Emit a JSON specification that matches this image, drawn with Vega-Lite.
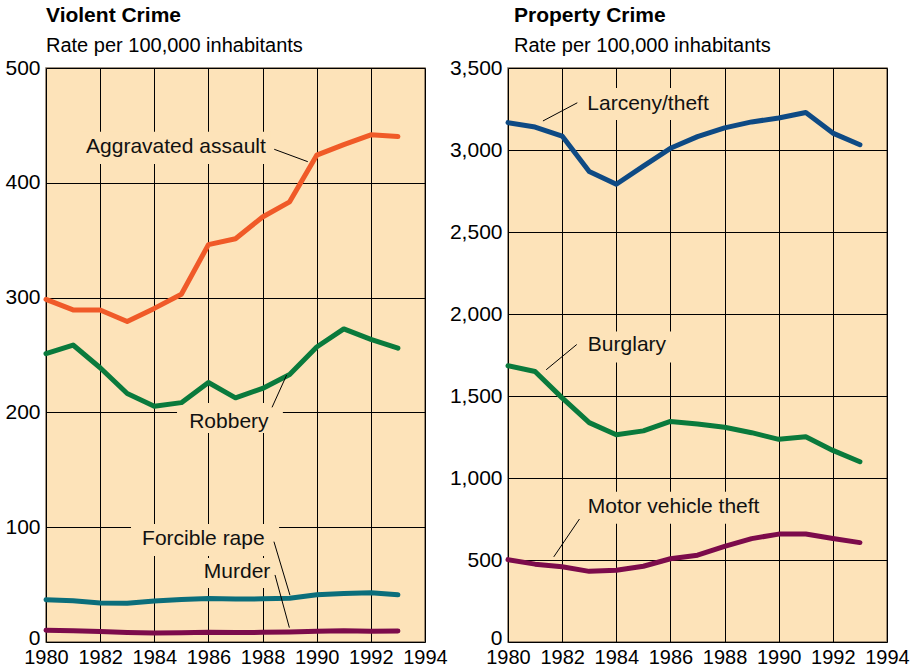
{
  "$schema": "https://vega.github.io/schema/vega-lite/v6.json",
  "background": "#ffffff",
  "padding": {"left": 4, "top": 4, "right": 10, "bottom": 4},
  "bounds": "flush",
  "spacing": 83,
  "datasets": {
    "violent": [
      {"year":1980,"crime":"Aggravated assault","rate":298.5},{"year":1981,"crime":"Aggravated assault","rate":289.3},{"year":1982,"crime":"Aggravated assault","rate":289.2},{"year":1983,"crime":"Aggravated assault","rate":279.2},{"year":1984,"crime":"Aggravated assault","rate":290.6},{"year":1985,"crime":"Aggravated assault","rate":302.9},{"year":1986,"crime":"Aggravated assault","rate":346.1},{"year":1987,"crime":"Aggravated assault","rate":351.3},{"year":1988,"crime":"Aggravated assault","rate":370.2},{"year":1989,"crime":"Aggravated assault","rate":383.4},{"year":1990,"crime":"Aggravated assault","rate":424.1},{"year":1991,"crime":"Aggravated assault","rate":433.3},{"year":1992,"crime":"Aggravated assault","rate":441.8},{"year":1993,"crime":"Aggravated assault","rate":440.3},
      {"year":1980,"crime":"Robbery","rate":251.1},{"year":1981,"crime":"Robbery","rate":258.7},{"year":1982,"crime":"Robbery","rate":238.9},{"year":1983,"crime":"Robbery","rate":216.5},{"year":1984,"crime":"Robbery","rate":205.4},{"year":1985,"crime":"Robbery","rate":208.5},{"year":1986,"crime":"Robbery","rate":226.0},{"year":1987,"crime":"Robbery","rate":212.7},{"year":1988,"crime":"Robbery","rate":220.9},{"year":1989,"crime":"Robbery","rate":233.0},{"year":1990,"crime":"Robbery","rate":257.0},{"year":1991,"crime":"Robbery","rate":272.7},{"year":1992,"crime":"Robbery","rate":263.6},{"year":1993,"crime":"Robbery","rate":255.9},
      {"year":1980,"crime":"Forcible rape","rate":36.8},{"year":1981,"crime":"Forcible rape","rate":36.0},{"year":1982,"crime":"Forcible rape","rate":34.0},{"year":1983,"crime":"Forcible rape","rate":33.7},{"year":1984,"crime":"Forcible rape","rate":35.7},{"year":1985,"crime":"Forcible rape","rate":37.1},{"year":1986,"crime":"Forcible rape","rate":37.9},{"year":1987,"crime":"Forcible rape","rate":37.4},{"year":1988,"crime":"Forcible rape","rate":37.6},{"year":1989,"crime":"Forcible rape","rate":38.1},{"year":1990,"crime":"Forcible rape","rate":41.2},{"year":1991,"crime":"Forcible rape","rate":42.3},{"year":1992,"crime":"Forcible rape","rate":42.8},{"year":1993,"crime":"Forcible rape","rate":41.1},
      {"year":1980,"crime":"Murder","rate":10.2},{"year":1981,"crime":"Murder","rate":9.8},{"year":1982,"crime":"Murder","rate":9.1},{"year":1983,"crime":"Murder","rate":8.3},{"year":1984,"crime":"Murder","rate":7.9},{"year":1985,"crime":"Murder","rate":8.0},{"year":1986,"crime":"Murder","rate":8.6},{"year":1987,"crime":"Murder","rate":8.3},{"year":1988,"crime":"Murder","rate":8.4},{"year":1989,"crime":"Murder","rate":8.7},{"year":1990,"crime":"Murder","rate":9.4},{"year":1991,"crime":"Murder","rate":9.8},{"year":1992,"crime":"Murder","rate":9.3},{"year":1993,"crime":"Murder","rate":9.5}
    ],
    "property": [
      {"year":1980,"crime":"Larceny/theft","rate":3167.0},{"year":1981,"crime":"Larceny/theft","rate":3139.7},{"year":1982,"crime":"Larceny/theft","rate":3084.9},{"year":1983,"crime":"Larceny/theft","rate":2868.9},{"year":1984,"crime":"Larceny/theft","rate":2791.3},{"year":1985,"crime":"Larceny/theft","rate":2901.2},{"year":1986,"crime":"Larceny/theft","rate":3010.3},{"year":1987,"crime":"Larceny/theft","rate":3081.3},{"year":1988,"crime":"Larceny/theft","rate":3134.9},{"year":1989,"crime":"Larceny/theft","rate":3171.3},{"year":1990,"crime":"Larceny/theft","rate":3194.8},{"year":1991,"crime":"Larceny/theft","rate":3228.8},{"year":1992,"crime":"Larceny/theft","rate":3103.0},{"year":1993,"crime":"Larceny/theft","rate":3032.4},
      {"year":1980,"crime":"Burglary","rate":1684.1},{"year":1981,"crime":"Burglary","rate":1649.5},{"year":1982,"crime":"Burglary","rate":1488.8},{"year":1983,"crime":"Burglary","rate":1337.7},{"year":1984,"crime":"Burglary","rate":1263.7},{"year":1985,"crime":"Burglary","rate":1287.3},{"year":1986,"crime":"Burglary","rate":1344.6},{"year":1987,"crime":"Burglary","rate":1329.6},{"year":1988,"crime":"Burglary","rate":1309.2},{"year":1989,"crime":"Burglary","rate":1276.3},{"year":1990,"crime":"Burglary","rate":1235.9},{"year":1991,"crime":"Burglary","rate":1252.1},{"year":1992,"crime":"Burglary","rate":1168.2},{"year":1993,"crime":"Burglary","rate":1099.2},
      {"year":1980,"crime":"Motor vehicle theft","rate":502.2},{"year":1981,"crime":"Motor vehicle theft","rate":474.7},{"year":1982,"crime":"Motor vehicle theft","rate":458.8},{"year":1983,"crime":"Motor vehicle theft","rate":430.8},{"year":1984,"crime":"Motor vehicle theft","rate":437.1},{"year":1985,"crime":"Motor vehicle theft","rate":462.0},{"year":1986,"crime":"Motor vehicle theft","rate":507.8},{"year":1987,"crime":"Motor vehicle theft","rate":529.4},{"year":1988,"crime":"Motor vehicle theft","rate":582.9},{"year":1989,"crime":"Motor vehicle theft","rate":630.4},{"year":1990,"crime":"Motor vehicle theft","rate":657.8},{"year":1991,"crime":"Motor vehicle theft","rate":659.0},{"year":1992,"crime":"Motor vehicle theft","rate":631.6},{"year":1993,"crime":"Motor vehicle theft","rate":606.1}
    ],
    "violentLabels": [
      {"label":"Aggravated assault","year":1981.48,"rate":431.2,"lyear":1988.43,"lrate":429.2,"lyear2":1989.67,"lrate2":418.4,"myear":1981.29,"myear2":1988.31,"mrate":444.5,"mrate2":416.4},
      {"label":"Robbery","year":1985.29,"rate":191.9,"lyear":1988.35,"lrate":204.4,"lyear2":1988.89,"lrate2":232.6,"myear":1984.84,"myear2":1988.75,"mrate":208.2,"mrate2":182.1},
      {"label":"Forcible rape","year":1983.55,"rate":89.7,"lyear":1988.42,"lrate":87.4,"lyear2":1989.01,"lrate2":40.9,"myear":1983.14,"myear2":1988.61,"mrate":102.8,"mrate2":74.9},
      {"label":"Murder","year":1985.83,"rate":61.2,"lyear":1988.46,"lrate":58.4,"lyear2":1988.99,"lrate2":12.5,"myear":1985.58,"myear2":1988.61,"mrate":73.2,"mrate2":47.0}
    ],
    "propertyLabels": [
      {"label":"Larceny/theft","year":1982.93,"rate":3280,"lyear":1982.56,"lrate":3288,"lyear2":1981.29,"lrate2":3177,"myear":1982.70,"myear2":1987.70,"mrate":3378,"mrate2":3183},
      {"label":"Burglary","year":1982.95,"rate":1808,"lyear":1982.54,"lrate":1814,"lyear2":1981.41,"lrate2":1660,"myear":1982.70,"myear2":1986.22,"mrate":1894,"mrate2":1704},
      {"label":"Motor vehicle theft","year":1982.95,"rate":826,"lyear":1982.64,"lrate":750,"lyear2":1981.69,"lrate2":519,"myear":1982.70,"myear2":1989.74,"mrate":916,"mrate2":721}
    ]
  },
  "hconcat": [
    {
      "width": 379,
      "height": 574,
      "title": {"text": "Violent Crime", "subtitle": "Rate per 100,000 inhabitants"},
      "layer": [
        {
          "data": {"name": "violentLabels"},
          "mark": {"type": "rect", "fill": "#FDE3B9"},
          "encoding": {
            "x": {"field": "myear", "type": "quantitative", "scale": {"domain": [1980, 1994], "nice": false, "zero": false}, "axis": {"values": [1980,1982,1984,1986,1988,1990,1992,1994], "format": "d"}, "title": null},
            "x2": {"field": "myear2"},
            "y": {"field": "mrate", "type": "quantitative", "scale": {"domain": [0, 500], "nice": false}, "axis": {"values": [0,100,200,300,400,500], "format": ",d", "labelOffset": {"condition": {"test": "datum.value === 0", "value": -4}, "value": 0}}, "title": null},
            "y2": {"field": "mrate2"}
          }
        },
        {
          "data": {"name": "violent"},
          "mark": {"type": "line", "strokeWidth": 5, "strokeCap": "round", "strokeJoin": "round"},
          "encoding": {
            "x": {"field": "year", "type": "quantitative", "title": null},
            "y": {"field": "rate", "type": "quantitative", "title": null},
            "color": {"field": "crime", "type": "nominal", "legend": null, "scale": {"domain": ["Aggravated assault", "Robbery", "Forcible rape", "Murder"], "range": ["#F05A28", "#0A7A3C", "#0B6E7B", "#7C0B4B"]}}
          }
        },
        {
          "data": {"name": "violentLabels"},
          "mark": {"type": "rule", "stroke": "#000000", "strokeWidth": 1},
          "encoding": {
            "x": {"field": "lyear", "type": "quantitative", "title": null},
            "x2": {"field": "lyear2"},
            "y": {"field": "lrate", "type": "quantitative", "title": null},
            "y2": {"field": "lrate2"}
          }
        },
        {
          "data": {"name": "violentLabels"},
          "mark": {"type": "text", "align": "left", "baseline": "middle", "fontSize": 21, "font": "Liberation Sans", "color": "#111111"},
          "encoding": {
            "x": {"field": "year", "type": "quantitative", "title": null},
            "y": {"field": "rate", "type": "quantitative", "title": null},
            "text": {"field": "label"}
          }
        }
      ]
    },
    {
      "width": 379,
      "height": 574,
      "title": {"text": "Property Crime", "subtitle": "Rate per 100,000 inhabitants", "dx": 6},
      "layer": [
        {
          "data": {"name": "propertyLabels"},
          "mark": {"type": "rect", "fill": "#FDE3B9"},
          "encoding": {
            "x": {"field": "myear", "type": "quantitative", "scale": {"domain": [1980, 1994], "nice": false, "zero": false}, "axis": {"values": [1980,1982,1984,1986,1988,1990,1992,1994], "format": "d"}, "title": null},
            "x2": {"field": "myear2"},
            "y": {"field": "mrate", "type": "quantitative", "scale": {"domain": [0, 3500], "nice": false}, "axis": {"values": [0,500,1000,1500,2000,2500,3000,3500], "format": ",d", "labelOffset": {"condition": {"test": "datum.value === 0", "value": -4}, "value": 0}}, "title": null},
            "y2": {"field": "mrate2"}
          }
        },
        {
          "data": {"name": "property"},
          "mark": {"type": "line", "strokeWidth": 5, "strokeCap": "round", "strokeJoin": "round"},
          "encoding": {
            "x": {"field": "year", "type": "quantitative", "title": null},
            "y": {"field": "rate", "type": "quantitative", "title": null},
            "color": {"field": "crime", "type": "nominal", "legend": null, "scale": {"domain": ["Larceny/theft", "Burglary", "Motor vehicle theft"], "range": ["#0E4A84", "#0A7A3C", "#7C0B4B"]}}
          }
        },
        {
          "data": {"name": "propertyLabels"},
          "mark": {"type": "rule", "stroke": "#000000", "strokeWidth": 1},
          "encoding": {
            "x": {"field": "lyear", "type": "quantitative", "title": null},
            "x2": {"field": "lyear2"},
            "y": {"field": "lrate", "type": "quantitative", "title": null},
            "y2": {"field": "lrate2"}
          }
        },
        {
          "data": {"name": "propertyLabels"},
          "mark": {"type": "text", "align": "left", "baseline": "middle", "fontSize": 21, "font": "Liberation Sans", "color": "#111111"},
          "encoding": {
            "x": {"field": "year", "type": "quantitative", "title": null},
            "y": {"field": "rate", "type": "quantitative", "title": null},
            "text": {"field": "label"}
          }
        }
      ]
    }
  ],
  "resolve": {"scale": {"x": "independent", "y": "independent", "color": "independent"}},
  "config": {
    "font": "Liberation Sans",
    "view": {"fill": "#FDE3B9", "stroke": "#7f6e59", "strokeWidth": 1.5},
    "axis": {"grid": true, "gridColor": "#000000", "gridOpacity": 1, "gridWidth": 1, "domain": false, "ticks": false, "labelColor": "#000000", "labelFont": "Liberation Sans", "labelOverlap": false, "labelFlush": false, "labelBound": false},
    "axisX": {"labelFontSize": 20, "labelPadding": 5},
    "axisY": {"labelFontSize": 21, "labelPadding": 6},
    "title": {"anchor": "start", "frame": "group", "fontSize": 21, "fontWeight": "bold", "color": "#000000", "subtitleFontSize": 20, "subtitleColor": "#000000", "subtitlePadding": 10, "offset": 1}
  }
}
